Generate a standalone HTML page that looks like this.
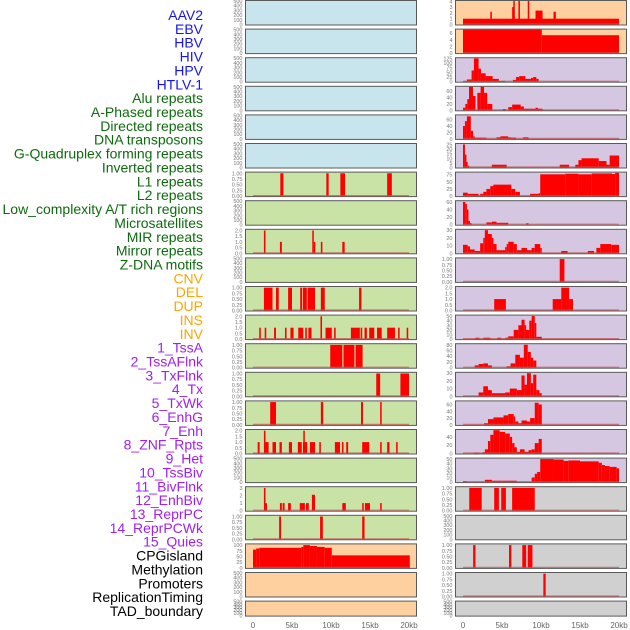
<!DOCTYPE html>
<html><head><meta charset="utf-8"><style>
html,body{margin:0;padding:0;background:#fff;width:630px;height:630px;overflow:hidden}
svg{display:block}
.lab{font-family:"Liberation Sans",sans-serif;font-size:14px}
.tk{font-family:"Liberation Sans",sans-serif;font-size:5.5px;fill:#777}
.xt{font-family:"Liberation Sans",sans-serif;font-size:8px;fill:#666}
</style></head><body>
<svg id="chart" width="630" height="630" xmlns="http://www.w3.org/2000/svg"></svg>
<script>
// ---------- data ----------
const labelNames = ["AAV2","EBV","HBV","HIV","HPV","HTLV-1","Alu repeats","A-Phased repeats","Directed repeats","DNA transposons","G-Quadruplex forming repeats","Inverted repeats","L1 repeats","L2 repeats","Low_complexity A/T rich regions","Microsatellites","MIR repeats","Mirror repeats","Z-DNA motifs","CNV","DEL","DUP","INS","INV","1_TssA","2_TssAFlnk","3_TxFlnk","4_Tx","5_TxWk","6_EnhG","7_Enh","8_ZNF_Rpts","9_Het","10_TssBiv","11_BivFlnk","12_EnhBiv","13_ReprPC","14_ReprPCWk","15_Quies","CPGisland","Methylation","Promoters","ReplicationTiming","TAD_boundary"];
const labelGroups = [0,0,0,0,0,0,1,1,1,1,1,1,1,1,1,1,1,1,1,2,2,2,2,2,3,3,3,3,3,3,3,3,3,3,3,3,3,3,3,4,4,4,4,4];
const xTicks = [0,5,10,15,20];
const xTickLabels = ["0","5kb","10kb","15kb","20kb"];
const ticks500 = [0,100,200,300,400,500];
const ticks1 = [0,0.25,0.5,0.75,1];
// segments: [startKb, endKb, value]
const midL1 = [[3.5,3.9,1],[9.4,9.7,1],[11.2,11.8,1],[17.2,17.8,1]];
const midRow8 = [[1.4,1.6,2],[3.45,3.7,1],[7.6,7.8,2],[7.8,7.95,1],[8.7,8.9,1],[11.45,11.75,1]];
const midRow10 = [[1.4,2.5,1],[2.95,3.3,1],[4.5,5.0,1],[6.05,6.3,1],[6.4,6.9,1],[7.0,7.95,1],[8.7,9.2,1],[13.6,13.9,1]];
const midRow11 = [[0.8,1.0,1],[1.5,1.7,1],[2.7,2.95,1],[4.1,4.3,1],[4.8,5.2,1],[5.8,6.45,1],[6.7,6.9,1],[7.1,7.5,1],[8.65,8.85,2],[9.3,10.1,1],[10.4,10.6,1],[12.55,13.7,1],[13.8,14.0,1],[14.3,14.6,1],[14.9,15.55,1],[15.9,16.5,1],[17.2,18.2,1],[18.6,18.8,1],[19.7,19.9,1]];
const midRow12 = [[9.9,11.45,1],[11.6,13.0,1],[13.15,14.05,1]];
const midRow13 = [[15.8,16.3,1],[18.9,20.0,1]];
const midRow14 = [[2.2,2.95,1],[8.7,9.0,1],[13.85,14.1,1],[16.3,16.5,1]];
const midRow15 = [[0.6,0.85,1],[1.4,1.6,2],[1.6,2.0,1],[2.5,2.95,1],[3.4,3.7,1],[4.6,5.0,1],[5.75,6.25,1],[6.4,6.95,1],[6.45,6.6,2],[7.3,7.95,1],[8.5,8.7,1],[10.5,11.15,1],[11.4,11.6,1],[11.95,12.2,1],[14.0,14.9,1],[16.3,16.5,1],[17.2,17.5,1],[18.35,18.55,1]];
const midRow17 = [[1.4,1.6,3],[1.6,1.7,1],[3.45,3.7,1],[3.8,4.05,1],[4.5,4.85,1],[6.0,6.65,1],[6.8,7.15,1],[7.55,7.95,2.1],[11.45,11.9,1],[14.0,14.2,1],[14.35,15.0,1],[16.3,16.5,1]];
const midRow18 = [[3.35,3.6,1],[8.6,8.95,1],[14.0,14.3,1]];
const midCpg = [[0,0.4,80],[0.4,0.8,85],[0.8,6.2,88],[6.2,6.45,92],[6.45,7.3,100],[7.3,8.2,96],[8.2,9.2,92],[9.2,10.1,88],[10.1,20.1,55]];
const rAav2 = [[0,20,1],[3.5,3.7,2.2],[6.3,6.45,3],[6.45,6.6,5],[7.1,7.3,5],[8.3,8.5,5],[9.3,10.2,2.4],[11.6,11.9,2.2]];
const rEbv = [[0,10.1,7.2],[10.1,20,5.4]];
const rHiv = [[0,0.5,3],[0.5,1.1,12],[1.1,1.4,60],[1.4,2.0,125],[2.0,2.3,70],[2.3,2.9,45],[2.9,3.8,30],[3.8,4.6,15],[4.6,5.4,4],[6.4,6.8,10],[6.8,7.2,25],[7.2,8.0,30],[8.0,8.7,15],[8.7,9.0,20],[9.0,9.4,25],[9.4,9.7,15]];
const rHpv = [[0,0.3,8],[0.3,0.55,20],[0.55,0.77,35],[0.77,1.28,75],[1.28,1.6,45],[1.84,2.26,55],[2.26,2.7,75],[2.7,3.1,55],[3.1,3.76,20],[5.1,5.5,4],[5.8,6.3,10],[6.3,7.4,18],[7.4,7.8,12],[7.8,9.3,5],[9.3,9.6,8],[9.6,10.2,5]];
const rDirected = [[0,0.25,40],[0.25,0.5,55],[0.5,1.0,70],[1.0,1.3,25],[1.3,1.5,8],[1.5,3.0,4],[4.3,4.8,5],[4.8,5.8,8],[5.8,6.1,5],[6.1,6.8,4],[7.7,8.4,5]];
const rGquad = [[0,0.25,25],[0.25,0.4,14],[0.4,0.6,6],[0.6,0.8,2],[3.7,5.6,3],[12.4,13.6,3],[14.4,14.8,3],[14.8,15.2,8],[15.2,17.4,10],[17.4,18.4,7],[18.4,18.8,3],[18.8,20,13]];
const rInverted = [[0,0.6,12],[0.6,2.0,8],[2.2,2.6,8],[2.6,3.0,15],[3.0,3.5,25],[3.5,3.9,35],[3.9,6.2,40],[6.2,6.7,25],[6.7,7.3,15],[8.6,9.7,8],[9.7,9.9,10],[9.9,13.1,76],[13.1,14.8,78],[14.8,16.5,76],[16.5,19.1,79],[19.1,19.5,77],[19.5,20,81]];
const rLowComp = [[0,0.3,60],[0.3,0.5,55],[0.5,0.7,40],[0.7,0.9,10],[0.9,1.1,4],[3.0,3.7,6],[3.7,4.3,8],[4.3,5.8,5],[8.1,8.4,4]];
const rMir = [[0,0.6,11],[0.6,0.9,9],[0.9,1.5,5],[1.5,2.2,3],[2.2,2.6,13],[2.6,2.8,20],[2.8,3.2,30],[3.2,3.7,25],[3.7,3.9,20],[3.9,4.3,12],[4.3,5.4,4],[5.4,5.6,8],[5.6,5.8,12],[5.8,6.5,15],[6.5,6.9,12],[6.9,7.5,4],[7.5,8.2,7],[8.2,8.8,4],[8.8,9.2,7],[9.2,9.9,12],[9.9,10.1,7],[12.6,13.4,3],[16.0,16.8,3],[17.1,17.6,7],[17.6,19.0,12],[19.0,20,11]];
const rRow9 = [[12.4,13.0,1]];
const rRow10 = [[4.0,5.5,1],[11.5,12.6,1],[12.6,13.6,2],[13.6,14.1,1]];
const rRow11 = [[1.6,2.1,3],[2.6,3.5,3],[4.4,4.9,3],[5.4,5.8,3],[5.8,6.5,6],[6.5,7.1,20],[7.1,7.5,30],[7.5,7.9,42],[7.9,8.0,30],[8.0,8.5,20],[8.5,8.8,40],[8.8,9.2,50],[9.2,9.4,35],[9.4,10.1,5]];
const rRow12 = [[1.5,2.0,8],[2.0,2.6,13],[2.6,3.2,15],[3.2,3.7,8],[5.6,6.1,5],[6.1,6.7,15],[6.7,7.3,45],[7.3,7.8,35],[7.8,8.3,80],[8.3,8.7,55],[8.7,9.0,35],[9.0,9.4,25]];
const rRow13 = [[2.0,2.6,5],[2.6,3.2,13],[3.2,3.7,8],[3.7,5.4,4],[5.4,6.0,5],[6.0,6.9,10],[6.9,7.5,8],[7.5,7.9,27],[7.9,8.2,15],[8.2,8.7,30],[8.7,9.0,17],[9.0,9.4,28],[9.4,9.8,8],[9.8,10.1,4]];
const rRow14 = [[2.7,3.2,5],[3.2,3.9,17],[3.9,5.2,22],[5.2,5.8,28],[5.8,6.5,32],[6.5,6.7,25],[6.7,7.1,10],[7.1,7.5,5],[7.5,8.2,13],[8.2,8.6,10],[8.6,9.2,20],[9.2,9.7,65],[9.7,10.1,60]];
const rRow15 = [[1.45,2.0,2],[2.5,2.8,3],[2.8,3.2,10],[3.2,3.5,30],[3.5,3.9,45],[3.9,4.7,56],[4.7,5.4,52],[5.4,6.0,48],[6.0,6.3,40],[6.3,6.6,25],[6.6,6.9,15],[6.9,7.3,4],[7.3,7.9,10],[7.9,8.4,4],[8.4,8.8,8],[8.8,9.2,10],[9.2,9.7,25],[9.7,10.1,35]];
const rRow16 = [[0,0.5,2],[2.8,3.7,5],[3.7,6.9,3],[8.8,9.2,10],[9.2,9.5,18],[9.5,9.9,22],[9.9,11.6,50],[11.6,12.9,49],[12.9,13.5,46],[13.5,15.0,47],[15.0,17.4,45],[17.4,17.8,42],[17.8,18.2,37],[18.2,18.8,35],[18.8,19.7,33],[19.7,20,30]];
const rRow17 = [[0.8,2.4,1],[4.0,4.6,1],[4.9,5.5,1],[6.3,9.2,1]];
const rRow19 = [[1.3,1.6,1],[5.9,6.2,1],[7.6,8.1,1],[8.3,8.9,1]];
const rRow20 = [[10.3,10.6,1]];

// panel specs per row: [bgKey, ticks, ymax, segs]
const BLUE="#c8e4ec", GREEN="#c9e2a6", PEACH="#fecf9f", PURPLE="#d5c6e2", GRAY="#d0d0d0";
const midPanels = [
 [BLUE,ticks500,500,null],[BLUE,ticks500,500,null],[BLUE,ticks500,500,null],[BLUE,ticks500,500,null],[BLUE,ticks500,500,null],[BLUE,ticks500,500,null],
 [GREEN,ticks1,1.03,midL1],[GREEN,ticks500,500,null],[GREEN,[0,0.5,1,1.5,2],2.06,midRow8],[GREEN,ticks500,500,null],
 [GREEN,ticks1,1.03,midRow10],[GREEN,[0,0.5,1,1.5,2],2.06,midRow11],[GREEN,ticks1,1.03,midRow12],[GREEN,ticks1,1.03,midRow13],
 [GREEN,ticks1,1.03,midRow14],[GREEN,[0,0.5,1,1.5,2],2.06,midRow15],[GREEN,ticks500,500,null],[GREEN,[0,1,2,3],3.1,midRow17],
 [GREEN,ticks1,1.03,midRow18],[PEACH,[0,25,50,75,100],103,midCpg],[PEACH,ticks500,500,null],[PEACH,ticks500,500,null]
];
const rightPanels = [
 [PEACH,[0,1,2,3,4],4.05,rAav2],[PEACH,[0,2,4,6],7.1,rEbv],[PURPLE,[0,25,50,75,100,125],126,rHiv],[PURPLE,[0,20,40,60],74,rHpv],
 [PURPLE,[0,20,40,60],73,rDirected],[PURPLE,[0,5,10,15,20,25],25.5,rGquad],[PURPLE,[0,25,50,75],82,rInverted],[PURPLE,[0,20,40,60],62,rLowComp],
 [PURPLE,[0,10,20,30],30.5,rMir],[PURPLE,ticks1,1.03,rRow9],[PURPLE,[0,0.5,1,1.5,2],2.06,rRow10],[PURPLE,[0,10,20,30,40,50],51,rRow11],
 [PURPLE,[0,20,40,60,80],82,rRow12],[PURPLE,[0,10,20,30],30.5,rRow13],[PURPLE,[0,20,40,60],69,rRow14],[PURPLE,[0,20,40],56.5,rRow15],
 [PURPLE,[0,10,20,30,40,50],51,rRow16],[GRAY,ticks1,1.03,rRow17],[GRAY,ticks500,500,null],[GRAY,ticks1,1.03,rRow19],
 [GRAY,ticks1,1.03,rRow20],[GRAY,ticks500,500,null]
];

// ---------- drawing ----------
const NS="http://www.w3.org/2000/svg";
const svg=document.getElementById("chart");
function mk(tag,attrs,parent){const e=document.createElementNS(NS,tag);for(const k in attrs)e.setAttribute(k,attrs[k]);(parent||svg).appendChild(e);return e;}
const groupColors=["#1515f0","#0d6b0d","#ffa500","#a020f0","#000000"];
const labTop=15, labPitch=(611-15)/(labelNames.length-1);
labelNames.forEach((n,i)=>{
  const t=mk("text",{x:203,y:labTop+i*labPitch+5,"text-anchor":"end",fill:groupColors[labelGroups[i]],class:"lab"});
  
  
  t.textContent=n;
});
const rowPitch=28.6, rowH=24.5;
function xScale(col){const x0=col===0?253:463;return kb=>x0+kb*7.8;}
function drawPanel(spec,row,col){
  const [bg,ticks,ymax,segs]=spec;
  const left=col===0?245.5:455.5, w=171;
  const top=0.5+row*rowPitch, h=(row===21?15:rowH), bottom=top+h;
  const g=mk("g",{});
  
  
  const r=mk("rect",{x:left,y:top,width:w,height:h,fill:bg,stroke:"#5a5a5a","stroke-width":1},g);
  
  
  const ys=v=>bottom-0.5-Math.min(v,ymax)/ymax*(h-1);
  const xs=xScale(col);
  ticks.forEach(tv=>{
    const t=mk("text",{x:left-3,y:ys(tv)+2,"text-anchor":"end",class:"tk"},g);
    
    
    t.textContent=(ticks===ticks1?tv.toFixed(2):(ticks[ticks.length-1]===2&&ticks.length===5?tv.toFixed(1):String(tv)));
  });
  if(segs){
    segs.forEach(s=>{
      const b=mk("rect",{x:xs(s[0]),y:ys(s[2]),width:Math.max(1.5,xs(s[1])-xs(s[0])),height:bottom-0.5-ys(s[2]),fill:"#ff0000"},g);
      
      
    });
    const bl=mk("line",{x1:xs(0),x2:xs(20),y1:bottom-1,y2:bottom-1,stroke:"#c05050","stroke-opacity":0.7,"stroke-width":1.2},g);
    
    
  }
}
midPanels.forEach((p,i)=>drawPanel(p,i,0));
rightPanels.forEach((p,i)=>drawPanel(p,i,1));
[0,1].forEach(col=>{
  const xs=xScale(col);
  xTicks.forEach((v,i)=>{
    const t=mk("text",{x:xs(v),y:628,"text-anchor":"middle",class:"xt"});
    
    
    t.textContent=xTickLabels[i];
  });
});
</script>
</body></html>
